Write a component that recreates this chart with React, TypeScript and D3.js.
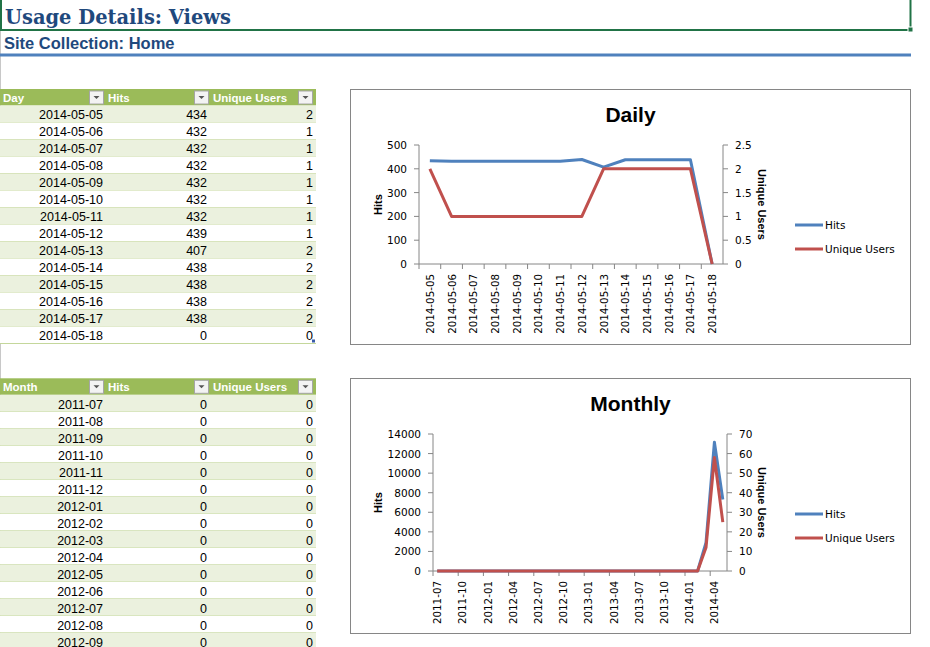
import React from 'react';
import * as d3 from 'd3';

// ---- data read from the sheet ----
const dailyDays = [
  '2014-05-05', '2014-05-06', '2014-05-07', '2014-05-08', '2014-05-09', '2014-05-10', '2014-05-11',
  '2014-05-12', '2014-05-13', '2014-05-14', '2014-05-15', '2014-05-16', '2014-05-17', '2014-05-18'
];
const dailyHits = [434, 432, 432, 432, 432, 432, 432, 439, 407, 438, 438, 438, 438, 0];
const dailyUsers = [2, 1, 1, 1, 1, 1, 1, 1, 2, 2, 2, 2, 2, 0];

const monthlyMonths = [
  '2011-07', '2011-08', '2011-09', '2011-10', '2011-11', '2011-12',
  '2012-01', '2012-02', '2012-03', '2012-04', '2012-05', '2012-06',
  '2012-07', '2012-08', '2012-09', '2012-10', '2012-11', '2012-12',
  '2013-01', '2013-02', '2013-03', '2013-04', '2013-05', '2013-06',
  '2013-07', '2013-08', '2013-09', '2013-10', '2013-11', '2013-12',
  '2014-01', '2014-02', '2014-03', '2014-04', '2014-05'
];
const monthlyHits = [
  0, 0, 0, 0, 0, 0,
  0, 0, 0, 0, 0, 0,
  0, 0, 0, 0, 0, 0,
  0, 0, 0, 0, 0, 0,
  0, 0, 0, 0, 0, 0,
  0, 0, 2900, 13150, 7300
];
const monthlyUsers = [
  0, 0, 0, 0, 0, 0,
  0, 0, 0, 0, 0, 0,
  0, 0, 0, 0, 0, 0,
  0, 0, 0, 0, 0, 0,
  0, 0, 0, 0, 0, 0,
  0, 0, 12, 58, 25
];

const dailyHitsTicks = [0, 100, 200, 300, 400, 500];
const dailyUsersTicks = [0, 0.5, 1, 1.5, 2, 2.5];
const monthlyHitsTicks = [0, 2000, 4000, 6000, 8000, 10000, 12000, 14000];
const monthlyUsersTicks = [0, 10, 20, 30, 40, 50, 60, 70];

const seriesNames = ['Hits', 'Unique Users'];
const seriesColors = ['#4F81BD', '#C0504D'];

const SHEET_FONT = "'Liberation Sans', Arial, sans-serif";
const CHART_FONT = "'DejaVu Sans', Verdana, sans-serif";
const AXIS_GREY = '#868686';
const PAGE_H = 647;

type TableProps = {
  top: number;
  firstHeader: string;
  labels: string[];
  hits: number[];
  users: number[];
  handle?: boolean;
};

const ROW_H = 17.0;
const HEAD_H = 16.5;

function DropButton({ x, y }: { x: number; y: number }) {
  return (
    <g>
      <rect x={x + 0.5} y={y + 0.5} width={14} height={13} fill="#F3F3F3" stroke="#A6A6A6" />
      <path d={`M${x + 4.5},${y + 5.5} L${x + 10.5},${y + 5.5} L${x + 7.5},${y + 8.5} Z`} fill="#555" />
    </g>
  );
}

function SheetTable({ top, firstHeader, labels, hits, users, handle }: TableProps) {
  const bodyTop = top + HEAD_H;
  // the sheet runs on below the window; only rows that start inside it are drawn
  const shown = labels.filter((_, i) => bodyTop + i * ROW_H < PAGE_H - 6);
  return (
    <g fontFamily={SHEET_FONT}>
      <rect x={0} y={top} width={316} height={HEAD_H} fill="#9BBB59" />
      {[firstHeader, 'Hits', 'Unique Users'].map((h, i) => (
        <text key={h} x={[3, 108, 213][i]} y={top + 13} fill="#fff" fontWeight="bold" fontSize={11.5}>
          {h}
        </text>
      ))}
      {[89, 194, 298].map((bx) => (
        <DropButton key={bx} x={bx} y={top + 1.5} />
      ))}
      {shown.map((lab, i) => {
        const y0 = bodyTop + i * ROW_H;
        return (
          <g key={lab}>
            <rect x={0} y={y0} width={316} height={ROW_H} fill={i % 2 === 0 ? '#EBF1DE' : '#FFFFFF'} />
            <line x1={0} x2={316} y1={y0 + ROW_H} y2={y0 + ROW_H} stroke="#C4D79B" strokeWidth={1} />
            <text x={103} y={y0 + 13.8} fontSize={12.5} textAnchor="end">{lab}</text>
            <text x={207} y={y0 + 13.8} fontSize={12.5} textAnchor="end">{hits[i]}</text>
            <text x={313} y={y0 + 13.8} fontSize={12.5} textAnchor="end">{users[i]}</text>
          </g>
        );
      })}
      {handle && (
        <rect x={312} y={bodyTop + labels.length * ROW_H - 4} width={3} height={3} fill="#3A5BA8" />
      )}
    </g>
  );
}

type ChartProps = {
  box: { x: number; y: number; w: number; h: number };
  plot: { left: number; right: number; top: number; bottom: number };
  title: string;
  titleY: number;
  categories: string[];
  hits: number[];
  users: number[];
  hitsTicks: number[];
  usersTicks: number[];
  labelEvery: number;
  legendY: number;
};

function LineChart(p: ChartProps) {
  const { plot } = p;
  const x = d3.scaleBand<string>().domain(p.categories).range([plot.left, plot.right]).padding(0);
  const yHits = d3
    .scaleLinear()
    .domain([0, p.hitsTicks[p.hitsTicks.length - 1]])
    .range([plot.bottom, plot.top]);
  const yUsers = d3
    .scaleLinear()
    .domain([0, p.usersTicks[p.usersTicks.length - 1]])
    .range([plot.bottom, plot.top]);
  const cx = (c: string) => (x(c) as number) + x.bandwidth() / 2;

  const hitsLine = d3
    .line<number>()
    .x((_, i) => cx(p.categories[i]))
    .y((d) => yHits(d));
  const usersLine = d3
    .line<number>()
    .x((_, i) => cx(p.categories[i]))
    .y((d) => yUsers(d));

  const midY = (plot.top + plot.bottom) / 2;
  const tickCats = p.categories.filter((_, i) => i % p.labelEvery === 0);

  return (
    <g fontFamily={CHART_FONT}>
      <rect x={p.box.x} y={p.box.y} width={p.box.w} height={p.box.h} fill="#fff" stroke={AXIS_GREY} />
      <text
        x={p.box.x + p.box.w / 2}
        y={p.titleY}
        textAnchor="middle"
        fontFamily={SHEET_FONT}
        fontWeight="bold"
        fontSize={21}
      >
        {p.title}
      </text>

      {/* left axis */}
      <line x1={plot.left} x2={plot.left} y1={plot.top} y2={plot.bottom} stroke={AXIS_GREY} />
      {p.hitsTicks.map((t) => (
        <g key={'h' + t}>
          <line x1={plot.left - 5} x2={plot.left} y1={yHits(t)} y2={yHits(t)} stroke={AXIS_GREY} />
          <text x={plot.left - 12} y={yHits(t) + 4} textAnchor="end" fontSize={10.5}>
            {t}
          </text>
        </g>
      ))}
      <text
        transform={`translate(382,${midY}) rotate(-90)`}
        textAnchor="middle"
        fontFamily={SHEET_FONT}
        fontWeight="bold"
        fontSize={11}
      >
        Hits
      </text>

      {/* right axis */}
      <line x1={plot.right} x2={plot.right} y1={plot.top} y2={plot.bottom} stroke={AXIS_GREY} />
      {p.usersTicks.map((t) => (
        <g key={'u' + t}>
          <line x1={plot.right} x2={plot.right + 5} y1={yUsers(t)} y2={yUsers(t)} stroke={AXIS_GREY} />
          <text x={plot.right + 12} y={yUsers(t) + 4} fontSize={10.5}>
            {t}
          </text>
        </g>
      ))}
      <text
        transform={`translate(758,${midY}) rotate(90)`}
        textAnchor="middle"
        fontFamily={SHEET_FONT}
        fontWeight="bold"
        fontSize={11}
      >
        Unique Users
      </text>

      {/* category axis */}
      <line x1={plot.left} x2={plot.right} y1={plot.bottom} y2={plot.bottom} stroke={AXIS_GREY} />
      {tickCats.map((c) => (
        <line
          key={'t' + c}
          x1={x(c) as number}
          x2={x(c) as number}
          y1={plot.bottom}
          y2={plot.bottom + 5}
          stroke={AXIS_GREY}
        />
      ))}
      {tickCats.map((c) => (
        <text
          key={'l' + c}
          transform={`translate(${cx(c) + 4},${plot.bottom + 10}) rotate(-90)`}
          textAnchor="end"
          fontSize={10.3}
        >
          {c}
        </text>
      ))}

      {/* series */}
      <path d={hitsLine(p.hits) || ''} fill="none" stroke={seriesColors[0]} strokeWidth={3} strokeLinejoin="round" />
      <path d={usersLine(p.users) || ''} fill="none" stroke={seriesColors[1]} strokeWidth={3} strokeLinejoin="round" />

      {/* legend */}
      {seriesNames.map((s, i) => (
        <g key={s}>
          <line
            x1={795}
            x2={823}
            y1={p.legendY + i * 24}
            y2={p.legendY + i * 24}
            stroke={seriesColors[i]}
            strokeWidth={3}
          />
          <text x={825} y={p.legendY + i * 24 + 4} fontSize={10.5}>
            {s}
          </text>
        </g>
      ))}
    </g>
  );
}

export default function App() {
  return (
    <svg
      width={930}
      height={PAGE_H}
      style={{ position: 'absolute', left: 0, top: 0, background: '#fff' }}
    >
      {/* sheet header */}
      <line x1={0.5} x2={0.5} y1={30} y2={PAGE_H} stroke="#C8C8C8" />
      <text
        x={5}
        y={24}
        fontFamily="'DejaVu Serif', serif"
        fontWeight="bold"
        fontSize={21}
        fill="#1F497D"
        textLength={226}
        lengthAdjust="spacingAndGlyphs"
      >
        Usage Details: Views
      </text>
      <line x1={1} x2={1} y1={0} y2={30} stroke="#217346" strokeWidth={2} />
      <line x1={0} x2={910} y1={30} y2={30} stroke="#217346" strokeWidth={2} />
      <line x1={910.5} x2={910.5} y1={0} y2={27} stroke="#217346" strokeWidth={2} />
      <rect x={908} y={27} width={5} height={5} fill="#217346" stroke="#fff" strokeWidth={1} />
      <text x={4} y={49} fontFamily={SHEET_FONT} fontWeight="bold" fontSize={16.5} fill="#1F497D">
        Site Collection: Home
      </text>
      <line x1={0} x2={911} y1={55} y2={55} stroke="#4F81BD" strokeWidth={3} />

      <SheetTable top={89} firstHeader="Day" labels={dailyDays} hits={dailyHits} users={dailyUsers} handle />
      <SheetTable
        top={378.3}
        firstHeader="Month"
        labels={monthlyMonths}
        hits={monthlyHits}
        users={monthlyUsers}
      />

      <LineChart
        box={{ x: 350.5, y: 89.5, w: 560, h: 255 }}
        plot={{ left: 419, right: 723, top: 145, bottom: 264 }}
        title="Daily"
        titleY={122}
        categories={dailyDays}
        hits={dailyHits}
        users={dailyUsers}
        hitsTicks={dailyHitsTicks}
        usersTicks={dailyUsersTicks}
        labelEvery={1}
        legendY={225}
      />
      <LineChart
        box={{ x: 350.5, y: 378.5, w: 560, h: 255 }}
        plot={{ left: 433, right: 727, top: 434, bottom: 571 }}
        title="Monthly"
        titleY={411}
        categories={monthlyMonths}
        hits={monthlyHits}
        users={monthlyUsers}
        hitsTicks={monthlyHitsTicks}
        usersTicks={monthlyUsersTicks}
        labelEvery={3}
        legendY={514}
      />
    </svg>
  );
}
